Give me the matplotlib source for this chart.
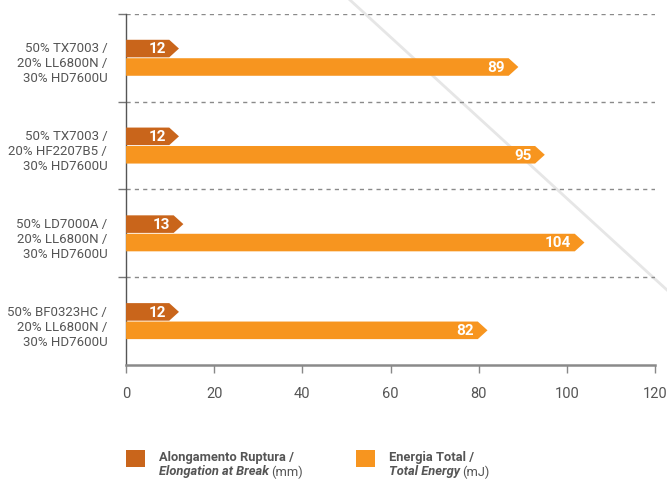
import numpy as np
import matplotlib
matplotlib.use("Agg")
import matplotlib.pyplot as plt
from matplotlib.patches import Polygon, Rectangle
from matplotlib.lines import Line2D

plt.rcParams["font.family"] = ["Roboto", "DejaVu Sans"]

DARK = "#c9651b"      # elongation at break
ORANGE = "#f7951f"    # total energy
TXT = "#555555"

categories = ["50% TX7003 /\n20% LL6800N /\n30% HD7600U",
              "50% TX7003 /\n20% HF2207B5 /\n30% HD7600U",
              "50% LD7000A /\n20% LL6800N /\n30% HD7600U",
              "50% BF0323HC /\n20% LL6800N /\n30% HD7600U"]
elongation = [12, 12, 13, 12]     # mm
energy = [89, 95, 104, 82]        # mJ
xticks = [0, 20, 40, 60, 80, 100, 120]

BAR_H = 0.2
OFF = 0.105
TIP = 2.2   # chevron length in data units


def arrow_bar(ax, value, yc, h, color, label):
    y0, y1 = yc - h / 2, yc + h / 2
    pts = [(0, y0), (value - TIP, y0), (value, yc), (value - TIP, y1), (0, y1)]
    ax.add_patch(Polygon(pts, closed=True, facecolor=color, edgecolor="none", zorder=3))
    ax.text(value - TIP - 0.8, yc + 0.01, label, ha="right", va="center",
            color="white", fontsize=11, fontweight="bold", zorder=4)


fig = plt.figure(figsize=(6.67, 4.79), dpi=100, facecolor="white")
ax = fig.add_axes([0.189, 0.238, 0.793, 0.733])

# decorative diagonal line in the background
fig.add_artist(Line2D([350 / 667, 1.0], [1.0, 1 - 290 / 479], transform=fig.transFigure,
                      color="#e6e6e6", lw=2.0, zorder=0))

for i, (e, t) in enumerate(zip(elongation, energy)):
    arrow_bar(ax, e, i - OFF, BAR_H, DARK, str(e))
    arrow_bar(ax, t, i + OFF, BAR_H, ORANGE, str(t))

ax.set_xlim(0, 120)
ax.set_ylim(3.5, -0.5)
ax.patch.set_alpha(0)

# group separators (dashed) + small left ticks
ax.set_yticks([-0.5, 0.5, 1.5, 2.5])
ax.set_yticklabels([])
ax.tick_params(axis="y", which="major", length=6, color="#777777", width=1)
ax.yaxis.grid(True, which="major", ls=(0, (3, 3)), color="#8a8a8a", lw=1)
ax.set_yticks([i + 0.04 for i in range(len(categories))], minor=True)
ax.set_yticklabels(categories, minor=True, fontsize=9.5, color=TXT, linespacing=1.2)
ax.tick_params(axis="y", which="minor", length=0, pad=13.5)

ax.set_xticks(xticks)
ax.set_xticklabels([str(v) for v in xticks], fontsize=10.5, color=TXT)
ax.tick_params(axis="x", length=6, color="#888888", width=1, pad=10)

for s in ["top", "right"]:
    ax.spines[s].set_visible(False)
ax.spines["left"].set_color("#555555")
ax.spines["left"].set_linewidth(1)
ax.spines["bottom"].set_color("#8a8a8a")
ax.spines["bottom"].set_linewidth(1.8)
ax.set_axisbelow(True)

# legend drawn by hand (two-line labels with mixed styles)
fig.canvas.draw()
renderer = fig.canvas.get_renderer()
legend = [(126, DARK, "Alongamento Ruptura /", "Elongation at Break", "(mm)"),
          (356, ORANGE, "Energia Total /", "Total Energy", "(mJ)")]
for x0, col, l1, l2, unit in legend:
    fig.add_artist(Rectangle((x0 / 667, 1 - 467 / 479), 19 / 667, 17 / 479,
                             transform=fig.transFigure, facecolor=col, edgecolor="none"))
    tx = (x0 + 33) / 667
    fig.text(tx, 1 - 458 / 479, l1, fontsize=9.3, fontweight="bold", color=TXT, va="center")
    t2 = fig.text(tx, 1 - 472 / 479, l2, fontsize=9.3, fontweight="bold", style="italic",
                  color=TXT, va="center")
    bb = t2.get_window_extent(renderer)
    fig.text(bb.x1 / fig.bbox.width + 2 / 667, 1 - 472 / 479, unit, fontsize=9.3,
             color=TXT, va="center")

fig.savefig("out.png", dpi=100, facecolor="white")
